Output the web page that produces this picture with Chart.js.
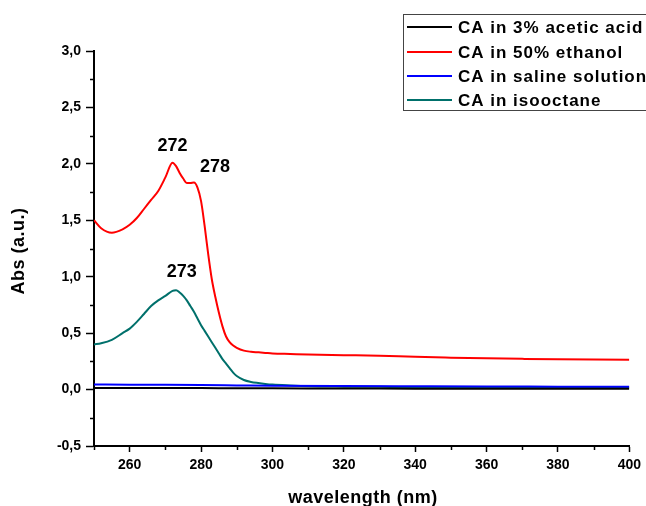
<!DOCTYPE html>
<html>
<head>
<meta charset="utf-8">
<script src="https://cdn.jsdelivr.net/npm/chart.js@4/dist/chart.umd.min.js"></script>
<style>
  html, body { margin: 0; padding: 0; background: #fff; }
  #wrap { width: 646px; height: 506px; }
</style>
</head>
<body>
<div id="wrap"><canvas id="uvChart" width="646" height="506"></canvas></div>
<script>
// wavelength grid (nm) for the two peaked spectra
const wavelengths = [250, 252, 255, 258, 260, 262, 264, 266, 268, 270, 272, 273, 274, 275, 276, 277, 278, 279, 280, 281, 282, 283, 284, 285, 286, 287, 288, 289, 290, 292, 294, 296, 298, 300, 305, 310, 320, 330, 340, 350, 360, 370, 380, 390, 400];
const ethanolAbs = [1.50, 1.43, 1.39, 1.42, 1.46, 1.52, 1.60, 1.68, 1.76, 1.88, 2.01, 1.98, 1.92, 1.87, 1.83, 1.83, 1.835, 1.79, 1.67, 1.45, 1.20, 0.98, 0.82, 0.68, 0.56, 0.47, 0.42, 0.39, 0.37, 0.345, 0.335, 0.33, 0.325, 0.32, 0.315, 0.31, 0.305, 0.30, 0.29, 0.283, 0.277, 0.272, 0.268, 0.266, 0.265];
const isooctaneAbs = [0.40, 0.41, 0.44, 0.50, 0.54, 0.60, 0.67, 0.74, 0.79, 0.83, 0.875, 0.88, 0.86, 0.83, 0.79, 0.74, 0.69, 0.63, 0.57, 0.52, 0.47, 0.42, 0.37, 0.32, 0.27, 0.23, 0.19, 0.15, 0.12, 0.085, 0.068, 0.058, 0.05, 0.044, 0.036, 0.03, 0.026, 0.024, 0.022, 0.021, 0.02, 0.02, 0.02, 0.019, 0.019];

// flat spectra
const flatWavelengths = [250, 260, 270, 280, 290, 300, 320, 340, 360, 380, 400];
const salineAbs = [0.045, 0.043, 0.042, 0.040, 0.037, 0.034, 0.031, 0.029, 0.027, 0.026, 0.025];
const aceticAbs = [0.015, 0.015, 0.014, 0.013, 0.012, 0.011, 0.010, 0.008, 0.007, 0.007, 0.007];

const seriesLabels = ['CA in 3% acetic acid', 'CA in 50% ethanol', 'CA in saline solution', 'CA in isooctane'];

// axis ticks
const xTickValues = [260, 280, 300, 320, 340, 360, 380, 400];
const xMinorTicks = [250, 270, 290, 310, 330, 350, 370, 390];
const yTickValues = [-0.5, 0.0, 0.5, 1.0, 1.5, 2.0, 2.5, 3.0];
const yMinorTicks = [-0.25, 0.25, 0.75, 1.25, 1.75, 2.25, 2.75];

// peak labels [text, wavelength, abs]
const peakLabels = [['272', 272, 2.16], ['278', 283.9, 1.97], ['273', 274.6, 1.04]];

function toPoints(xs, ys) {
    return xs.map((x, i) => ({ x: x, y: ys[i] }));
}

const boldFont = '"Liberation Sans", Arial, sans-serif';

// minor ticks, peak labels, axis titles and the boxed legend
const extrasPlugin = {
    id: 'extras',
    afterDraw(chart) {
        const ctx = chart.ctx;
        const xs = chart.scales.x;
        const ys = chart.scales.y;
        const area = chart.chartArea;
        ctx.save();
        ctx.strokeStyle = '#000';
        ctx.lineWidth = 1.5;
        yMinorTicks.forEach(v => {
            const py = Math.round(ys.getPixelForValue(v)) + 0.5;
            ctx.beginPath();
            ctx.moveTo(area.left - 4, py);
            ctx.lineTo(area.left, py);
            ctx.stroke();
        });
        xMinorTicks.forEach(v => {
            const px = Math.round(xs.getPixelForValue(v)) + 0.5;
            ctx.beginPath();
            ctx.moveTo(px, area.bottom);
            ctx.lineTo(px, area.bottom + 4);
            ctx.stroke();
        });

        // peak labels
        ctx.fillStyle = '#000';
        ctx.font = 'bold 18px ' + boldFont;
        ctx.textAlign = 'center';
        ctx.textBaseline = 'middle';
        peakLabels.forEach(p => {
            ctx.fillText(p[0], xs.getPixelForValue(p[1]), ys.getPixelForValue(p[2]));
        });

        // axis titles
        ctx.letterSpacing = '0.5px';
        ctx.textBaseline = 'alphabetic';
        ctx.fillText('wavelength (nm)', 363, 503);
        ctx.save();
        ctx.translate(24, 251);
        ctx.rotate(-Math.PI / 2);
        ctx.fillText('Abs (a.u.)', 0, 0);
        ctx.restore();

        // legend box
        ctx.letterSpacing = '1px';
        ctx.fillStyle = '#fff';
        ctx.fillRect(403, 14, 260, 96);
        ctx.strokeStyle = '#444';
        ctx.lineWidth = 1;
        ctx.strokeRect(403.5, 14.5, 260, 96);
        ctx.font = 'bold 17px ' + boldFont;
        ctx.textAlign = 'left';
        ctx.textBaseline = 'middle';
        const rows = [27, 52, 76, 100];
        chart.data.datasets.forEach((ds, i) => {
            ctx.strokeStyle = ds.borderColor;
            ctx.lineWidth = 2;
            ctx.beginPath();
            ctx.moveTo(407, rows[i]);
            ctx.lineTo(452, rows[i]);
            ctx.stroke();
            ctx.fillStyle = '#000';
            ctx.fillText(ds.label, 458, rows[i] + 1);
        });
        ctx.restore();
    }
};

const ctx = document.getElementById('uvChart').getContext('2d');
new Chart(ctx, {
    type: 'line',
    data: {
        datasets: [
            { label: seriesLabels[0], data: toPoints(flatWavelengths, aceticAbs), borderColor: '#000000' },
            { label: seriesLabels[1], data: toPoints(wavelengths, ethanolAbs), borderColor: '#ff0000' },
            { label: seriesLabels[2], data: toPoints(flatWavelengths, salineAbs), borderColor: '#0000ff' },
            { label: seriesLabels[3], data: toPoints(wavelengths, isooctaneAbs), borderColor: '#00706b' }
        ]
    },
    options: {
        responsive: false,
        animation: false,
        layout: { padding: { top: 51, right: 16, left: 0, bottom: 0 } },
        elements: {
            point: { radius: 0 },
            line: { borderWidth: 2, tension: 0.3, cubicInterpolationMode: 'monotone' }
        },
        plugins: {
            legend: { display: false },
            tooltip: { enabled: false }
        },
        scales: {
            x: {
                type: 'linear',
                min: 250,
                max: 400,
                afterFit(scale) { scale.height = 60; },
                afterBuildTicks(scale) { scale.ticks = xTickValues.map(v => ({ value: v })); },
                border: { color: '#000', width: 2 },
                grid: { drawOnChartArea: false, color: '#000', tickLength: 6, tickWidth: 1.5 },
                ticks: {
                    color: '#000',
                    padding: 5,
                    maxRotation: 0,
                    font: { family: boldFont, size: 14, weight: 'bold' }
                }
            },
            y: {
                min: -0.5,
                max: 3.0,
                afterFit(scale) { scale.width = 94; },
                afterBuildTicks(scale) { scale.ticks = yTickValues.map(v => ({ value: v })); },
                border: { color: '#000', width: 2 },
                grid: { drawOnChartArea: false, color: '#000', tickLength: 8, tickWidth: 1.5 },
                ticks: {
                    color: '#000',
                    padding: 5,
                    font: { family: boldFont, size: 14, weight: 'bold' },
                    callback: v => v.toFixed(1).replace('.', ',')
                }
            }
        }
    },
    plugins: [extrasPlugin]
});
</script>
</body>
</html>
